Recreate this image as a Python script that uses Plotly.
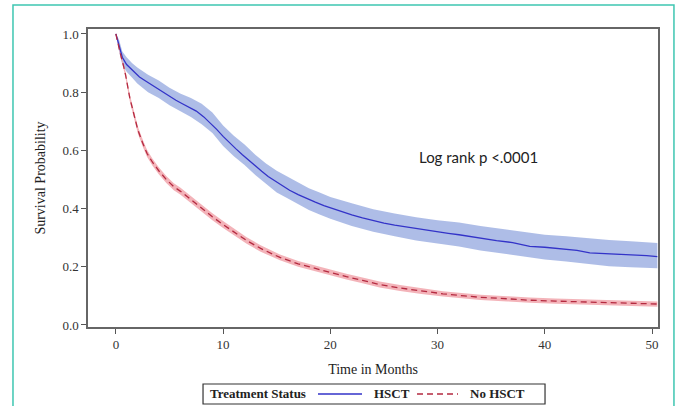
import plotly.graph_objects as go

# HSCT Kaplan-Meier estimate
hsct_t = [0, 0.3, 0.6, 1.0, 1.4, 1.8, 2.2, 2.7, 3.2, 3.8, 4.4, 5.0, 5.6, 6.2, 6.8, 7.5, 8.2, 8.8, 9.4,
          10.0, 10.6, 11.2, 11.8, 12.4, 13.0, 13.6, 14.2, 14.8, 15.5, 16.2, 17.0, 17.8, 18.6, 19.4,
          20.2, 21.0, 22.0, 23.0, 24.0, 25.0, 26.0, 27.0, 28.0, 29.0, 30.0, 31.0, 32.0, 33.0, 34.0,
          35.5, 37.0, 38.6, 40.0, 41.5, 43.0, 44.2, 46.0, 48.0, 49.5, 50.5]
hsct_s = [1.0, 0.96, 0.92, 0.895, 0.88, 0.865, 0.852, 0.84, 0.828, 0.815, 0.80, 0.785, 0.772, 0.76,
          0.748, 0.735, 0.715, 0.695, 0.672, 0.648, 0.625, 0.605, 0.585, 0.565, 0.548, 0.528, 0.51,
          0.495, 0.478, 0.463, 0.448, 0.434, 0.422, 0.41, 0.40, 0.39, 0.378, 0.368, 0.358, 0.35,
          0.343, 0.337, 0.331, 0.326, 0.32, 0.315, 0.31, 0.304, 0.298, 0.29, 0.283, 0.27, 0.267,
          0.262, 0.256, 0.248, 0.245, 0.242, 0.238, 0.235]

# HSCT confidence band
hsct_band_t = [0, 0.3, 0.6, 1.0, 1.5, 2.0, 3.0, 4.0, 5.0, 6.0, 7.0, 8.0, 9.0, 10.0, 11.0, 12.0, 13.0,
               14.0, 15.0, 16.0, 17.0, 18.0, 19.0, 20.0, 22.0, 24.0, 26.0, 28.0, 30.0, 32.0, 34.0,
               36.0, 38.0, 40.0, 42.0, 44.0, 46.0, 48.0, 50.5]
hsct_lo = [1.0, 0.94, 0.895, 0.87, 0.85, 0.83, 0.80, 0.78, 0.755, 0.735, 0.715, 0.69, 0.66, 0.615,
           0.58, 0.55, 0.515, 0.485, 0.455, 0.435, 0.415, 0.395, 0.38, 0.365, 0.34, 0.32, 0.305,
           0.29, 0.28, 0.27, 0.256, 0.245, 0.235, 0.225, 0.218, 0.21, 0.202, 0.198, 0.195]
hsct_hi = [1.0, 0.98, 0.94, 0.92, 0.90, 0.885, 0.86, 0.84, 0.815, 0.795, 0.78, 0.76, 0.73, 0.685,
           0.65, 0.62, 0.585, 0.555, 0.53, 0.51, 0.49, 0.47, 0.455, 0.44, 0.418, 0.398, 0.383,
           0.37, 0.36, 0.352, 0.34, 0.33, 0.32, 0.31, 0.305, 0.298, 0.292, 0.288, 0.282]

# No HSCT Kaplan-Meier estimate and band
nohsct_t = [0, 0.2, 0.4, 0.65, 0.9, 1.3, 1.7, 2.05, 2.5, 2.9, 3.4, 4.0, 4.7, 5.4, 6.0, 7.0, 8.0, 9.0,
            10.0, 11.0, 12.2, 13.5, 15.3, 17.0, 18.4, 20.0, 21.5, 23.0, 24.6, 26.5, 28.5, 30.5, 32.5,
            34.0, 36.5, 38.6, 41.0, 43.5, 46.0, 48.5, 50.5]
nohsct_s = [1.0, 0.965, 0.935, 0.90, 0.86, 0.78, 0.72, 0.67, 0.625, 0.59, 0.56, 0.53, 0.50, 0.475,
            0.46, 0.43, 0.40, 0.372, 0.345, 0.32, 0.29, 0.263, 0.232, 0.21, 0.196, 0.18, 0.166,
            0.153, 0.139, 0.127, 0.116, 0.107, 0.10, 0.095, 0.09, 0.085, 0.082, 0.079, 0.076,
            0.073, 0.072]
nohsct_lo = [1.0, 0.958, 0.926, 0.89, 0.849, 0.768, 0.708, 0.658, 0.613, 0.578, 0.548, 0.518, 0.488,
             0.463, 0.448, 0.418, 0.388, 0.36, 0.333, 0.308, 0.279, 0.252, 0.222, 0.2, 0.186, 0.17,
             0.156, 0.143, 0.129, 0.117, 0.106, 0.098, 0.091, 0.086, 0.081, 0.076, 0.073, 0.07,
             0.067, 0.064, 0.063]
nohsct_hi = [1.0, 0.972, 0.944, 0.91, 0.871, 0.792, 0.732, 0.682, 0.637, 0.602, 0.572, 0.542, 0.512,
             0.487, 0.472, 0.442, 0.412, 0.384, 0.357, 0.332, 0.301, 0.274, 0.242, 0.22, 0.206, 0.19,
             0.176, 0.163, 0.149, 0.137, 0.126, 0.116, 0.109, 0.104, 0.099, 0.094, 0.091, 0.088,
             0.085, 0.082, 0.081]

x_ticks = [0, 10, 20, 30, 40, 50]
y_ticks = [0.0, 0.2, 0.4, 0.6, 0.8, 1.0]
series_names = ["HSCT", "No HSCT"]
legend_title = "Treatment Status"

BLUE = "#3333c8"
BLUE_BAND = "rgba(165,182,228,0.9)"
RED = "#b42a40"
RED_BAND = "rgba(240,160,168,0.8)"
SERIF = "Liberation Serif"

fig = go.Figure()
fig.add_trace(go.Scatter(x=hsct_band_t, y=hsct_lo, mode="lines", line=dict(width=0),
                         showlegend=False, hoverinfo="skip"))
fig.add_trace(go.Scatter(x=hsct_band_t, y=hsct_hi, mode="lines", line=dict(width=0),
                         fill="tonexty", fillcolor=BLUE_BAND, showlegend=False, hoverinfo="skip"))
fig.add_trace(go.Scatter(x=nohsct_t, y=nohsct_lo, mode="lines", line=dict(width=0),
                         showlegend=False, hoverinfo="skip"))
fig.add_trace(go.Scatter(x=nohsct_t, y=nohsct_hi, mode="lines", line=dict(width=0),
                         fill="tonexty", fillcolor=RED_BAND, showlegend=False, hoverinfo="skip"))
fig.add_trace(go.Scatter(x=hsct_t, y=hsct_s, mode="lines", name=series_names[0],
                         line=dict(color=BLUE, width=1.3), showlegend=False))
fig.add_trace(go.Scatter(x=nohsct_t, y=nohsct_s, mode="lines", name=series_names[1],
                         line=dict(color=RED, width=1.3, dash="6px,4px"), showlegend=False))

fig.add_annotation(x=33.8, y=0.577, text="Log rank p <.0001", showarrow=False,
                   font=dict(family="Lato", size=15, color="#222"))

# outer teal frame
fig.add_shape(type="rect", xref="paper", yref="paper", x0=-0.1316, x1=1.028, y0=-0.4, y1=1.0805,
              line=dict(color="#3ec6b1", width=1.5), layer="above")

# legend box (drawn in paper space for a compact SAS-style legend)
LY = -0.2248
fig.add_shape(type="rect", xref="paper", yref="paper", x0=0.2018, x1=0.8018, y0=-0.2584, y1=-0.1913,
              line=dict(color="#333", width=1.2), fillcolor="white")
fig.add_annotation(xref="paper", yref="paper", x=0.2105, y=LY, xanchor="left", yanchor="middle",
                   text="<b>" + legend_title + "</b>", showarrow=False,
                   font=dict(family=SERIF, size=13, color="#222"))
fig.add_shape(type="line", xref="paper", yref="paper", x0=0.4035, x1=0.4807, y0=LY, y1=LY,
              line=dict(color=BLUE, width=1.3))
fig.add_annotation(xref="paper", yref="paper", x=0.4982, y=LY, xanchor="left", yanchor="middle",
                   text="<b>" + series_names[0] + "</b>", showarrow=False,
                   font=dict(family=SERIF, size=13, color="#222"))
fig.add_shape(type="line", xref="paper", yref="paper", x0=0.5772, x1=0.6491, y0=LY, y1=LY,
              line=dict(color=RED, width=1.3, dash="6px,4px"))
fig.add_annotation(xref="paper", yref="paper", x=0.6667, y=LY, xanchor="left", yanchor="middle",
                   text="<b>" + series_names[1] + "</b>", showarrow=False,
                   font=dict(family=SERIF, size=13, color="#222"))

fig.update_layout(
    width=680, height=406,
    margin=dict(l=88, r=22, t=29, b=79, autoexpand=False),
    paper_bgcolor="white", plot_bgcolor="white",
    font=dict(family=SERIF, color="#333"),
    showlegend=False,
    xaxis=dict(range=[-2.6, 50.56], tickvals=x_ticks, ticks="outside", ticklen=5, tickcolor="#555",
               showgrid=False, zeroline=False, showline=True, linecolor="#666", linewidth=1.5,
               mirror=True, automargin=False, tickfont=dict(family=SERIF, size=13, color="#333"),
               title=dict(text="Time in Months", font=dict(family=SERIF, size=14, color="#222"),
                          standoff=13)),
    yaxis=dict(range=[-0.007, 1.017], tickvals=y_ticks, tickformat=".1f", ticks="outside",
               ticklen=5, tickcolor="#555", showgrid=False, zeroline=False, showline=True,
               linecolor="#666", linewidth=1.5, mirror=True, automargin=False,
               tickfont=dict(family=SERIF, size=13, color="#333"),
               title=dict(text="Survival Probability", font=dict(family=SERIF, size=14, color="#222"),
                          standoff=14)),
)

fig.write_html("out.html")
